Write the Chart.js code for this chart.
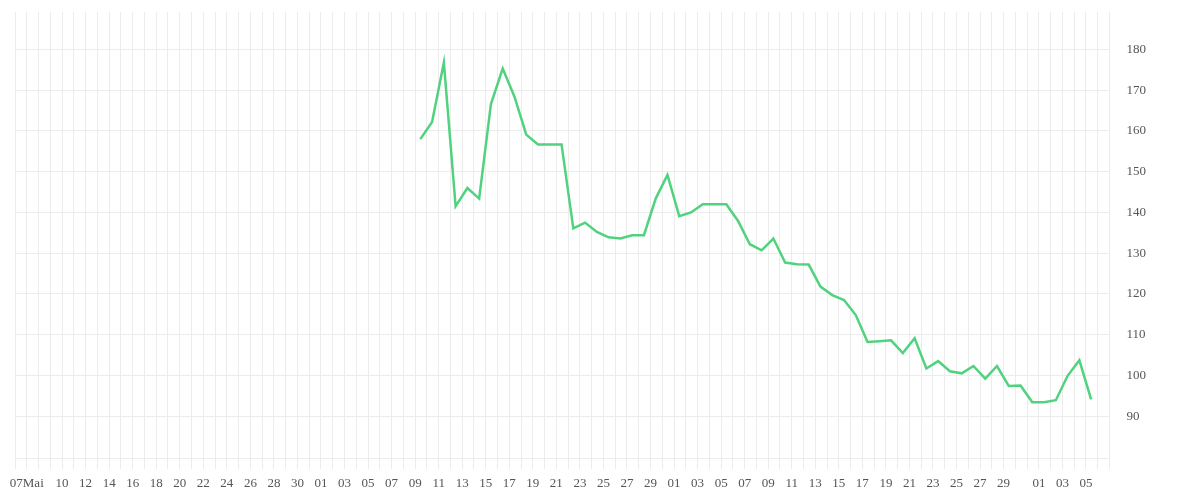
<!DOCTYPE html>
<html>
<head>
<meta charset="utf-8">
<script src="https://cdn.jsdelivr.net/npm/chart.js@4/dist/chart.umd.min.js"></script>
<style>
  html, body { margin: 0; padding: 0; background: #fff; }
  #wrap { width: 1200px; height: 500px; position: relative; }
</style>
</head>
<body>
<div id="wrap"><canvas id="chart"></canvas></div>
<script>
// one tick per day, 06 Mai .. 07 Aug, only every other day gets a label
const xTickLabels = [
  '', '07Mai', '', '', '10', '', '12', '', '14', '', '16', '', '18', '', '20', '',
  '22', '', '24', '', '26', '', '28', '', '30', '',
  '01', '', '03', '', '05', '', '07', '', '09', '', '11', '', '13', '', '15', '',
  '17', '', '19', '', '21', '', '23', '', '25', '', '27', '', '29', '',
  '01', '', '03', '', '05', '', '07', '', '09', '', '11', '', '13', '', '15', '',
  '17', '', '19', '', '21', '', '23', '', '25', '', '27', '', '29', '', '',
  '01', '', '03', '', '05', '', ''
];

// day index (0 = 06 Mai) of each sample
const pointDays = [
  34, 35, 36, 37, 38, 39, 40, 41, 42, 43, 44, 45, 46, 47, 48, 49, 50, 51, 52, 53,
  54, 55, 56, 57, 58, 59, 60, 61, 62, 63, 64, 65, 66, 67, 68, 69, 70, 71, 72, 73,
  74, 75, 76, 77, 78, 79, 80, 81, 82, 83, 84, 85, 86, 87, 88, 89, 90, 91
];
// samples are taken late morning, not at midnight
const sampleTime = 0.44;

const values = [
  158.0, 162.2, 176.8, 141.5, 146.0, 143.4, 166.6, 175.3, 168.4, 159.1,
  156.7, 156.7, 156.7, 136.1, 137.5, 135.2, 133.9, 133.6, 134.4, 134.4,
  143.4, 149.2, 139.1, 140.0, 142.0, 142.0, 142.0, 137.9, 132.2, 130.7,
  133.6, 127.7, 127.3, 127.2, 121.8, 119.7, 118.5, 114.8, 108.2, 108.4,
  108.6, 105.5, 109.1, 101.7, 103.5, 101.0, 100.5, 102.3, 99.2, 102.3,
  97.4, 97.5, 93.4, 93.4, 93.9, 99.9, 103.7, 94.1
];

const yTickValues = [90, 100, 110, 120, 130, 140, 150, 160, 170, 180];

const gridColor = '#ececec';
const tickFont = { family: '"Liberation Serif", serif', size: 13 };

const points = values.map((v, i) => ({ x: pointDays[i] + sampleTime, y: v }));

new Chart(document.getElementById('chart'), {
  type: 'line',
  data: {
    datasets: [{
      data: points,
      borderColor: '#50d27e',
      borderWidth: 2.5,
      pointRadius: 0,
      fill: false,
      tension: 0,
    }],
  },
  options: {
    responsive: true,
    maintainAspectRatio: false,
    animation: false,
    layout: { padding: { left: 15, top: 12, right: 51, bottom: 1.5 } },
    plugins: { legend: { display: false }, tooltip: { enabled: false } },
    scales: {
      x: {
        type: 'linear',
        min: 0,
        max: xTickLabels.length - 1,
        grid: { color: gridColor, tickLength: 10 },
        border: { color: gridColor },
        ticks: {
          stepSize: 1,
          autoSkip: false,
          maxRotation: 0,
          padding: 7,
          color: '#555',
          font: tickFont,
          callback: (v) => xTickLabels[v] || '',
        },
      },
      y: {
        position: 'right',
        min: 79.5,
        max: 189.2,
        afterBuildTicks: (scale) => {
          scale.ticks = yTickValues.map(v => ({ value: v }));
        },
        // tick marks only used as a spacer between the border and the labels
        grid: { color: gridColor, tickLength: 14, tickColor: 'rgba(0,0,0,0)' },
        border: { color: gridColor },
        ticks: {
          padding: 3,
          color: '#555',
          font: tickFont,
        },
      },
    },
  },
});
</script>
</body>
</html>
